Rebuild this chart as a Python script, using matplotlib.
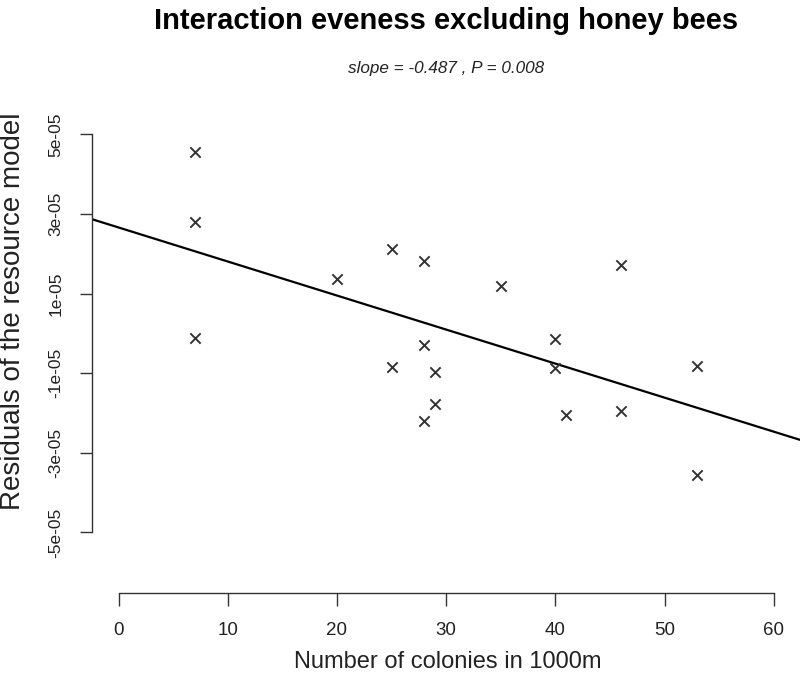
import matplotlib
matplotlib.use("Agg")
import matplotlib.pyplot as plt
import numpy as np

plt.rcParams['font.family'] = ['Liberation Sans', 'DejaVu Sans']

# Data
colonies = [7, 7, 7, 20, 25, 25, 28, 28, 28, 29, 29, 35, 40, 40, 41, 46, 46, 53, 53]
residuals = [4.55e-05, 2.8e-05, -0.12e-05, 1.37e-05, 2.12e-05, -0.85e-05,
             1.82e-05, -0.3e-05, -2.2e-05, -0.98e-05, -1.78e-05, 1.18e-05,
             -0.14e-05, -0.88e-05, -2.06e-05, 1.72e-05, -1.95e-05,
             -0.83e-05, -3.55e-05]
line_intercept = 2.66e-05
line_slope = -0.0855e-05
x_ticks = [0, 10, 20, 30, 40, 50, 60]
y_ticks = [-5e-05, -3e-05, -1e-05, 1e-05, 3e-05, 5e-05]
y_tick_labels = ['-5e-05', '-3e-05', '-1e-05', '1e-05', '3e-05', '5e-05']

W, H = 800, 683
fig = plt.figure(figsize=(W / 100, H / 100), dpi=100)
left, right, top, bottom = 92.3, 800.0, 116.8, 593.3
ax = fig.add_axes([left / W, 1 - bottom / H, (right - left) / W, (bottom - top) / H])
ax.set_xlim(-2.4, 62.4)
ax.set_ylim(-6.53e-05, 5.44e-05)

ax.scatter(colonies, residuals, marker='x', s=55, color='#333333', linewidths=1.4, zorder=3)
xl = np.array(ax.get_xlim())
ax.plot(xl, line_intercept + line_slope * xl, color='black', lw=1.6, zorder=2)

for s in ['top', 'right']:
    ax.spines[s].set_visible(False)
ax.spines['left'].set_bounds(-5e-05, 5e-05)
ax.spines['bottom'].set_bounds(0, 60)
for s in ['left', 'bottom']:
    ax.spines[s].set_color('#333333')
    ax.spines[s].set_linewidth(1.0)

ax.set_xticks(x_ticks)
ax.set_xticklabels([str(t) for t in x_ticks], fontsize=13.5)
ax.set_yticks(y_ticks)
ax.set_yticklabels(y_tick_labels, fontsize=12.5, rotation=90, va='center')
ax.tick_params(axis='both', length=9, width=1.0, color='#333333', labelcolor='#222222')
ax.tick_params(axis='x', pad=12)
ax.tick_params(axis='y', pad=12)

fig.text(446 / W, 1 - 21 / H, 'Interaction eveness excluding honey bees', ha='center', va='center',
         fontsize=21, fontweight='bold', color='black')
fig.text(446 / W, 1 - 68 / H, 'slope = -0.487 , P = 0.008', ha='center', va='center',
         fontsize=12.3, style='italic', color='#222222')
fig.text(448 / W, 1 - 662 / H, 'Number of colonies in 1000m', ha='center', va='center',
         fontsize=17, color='#222222')
fig.text(13 / W, 1 - 311 / H, 'Residuals of the resource model', ha='center', va='center',
         fontsize=20, rotation=90, color='#222222')

fig.savefig('out.png', dpi=100)
